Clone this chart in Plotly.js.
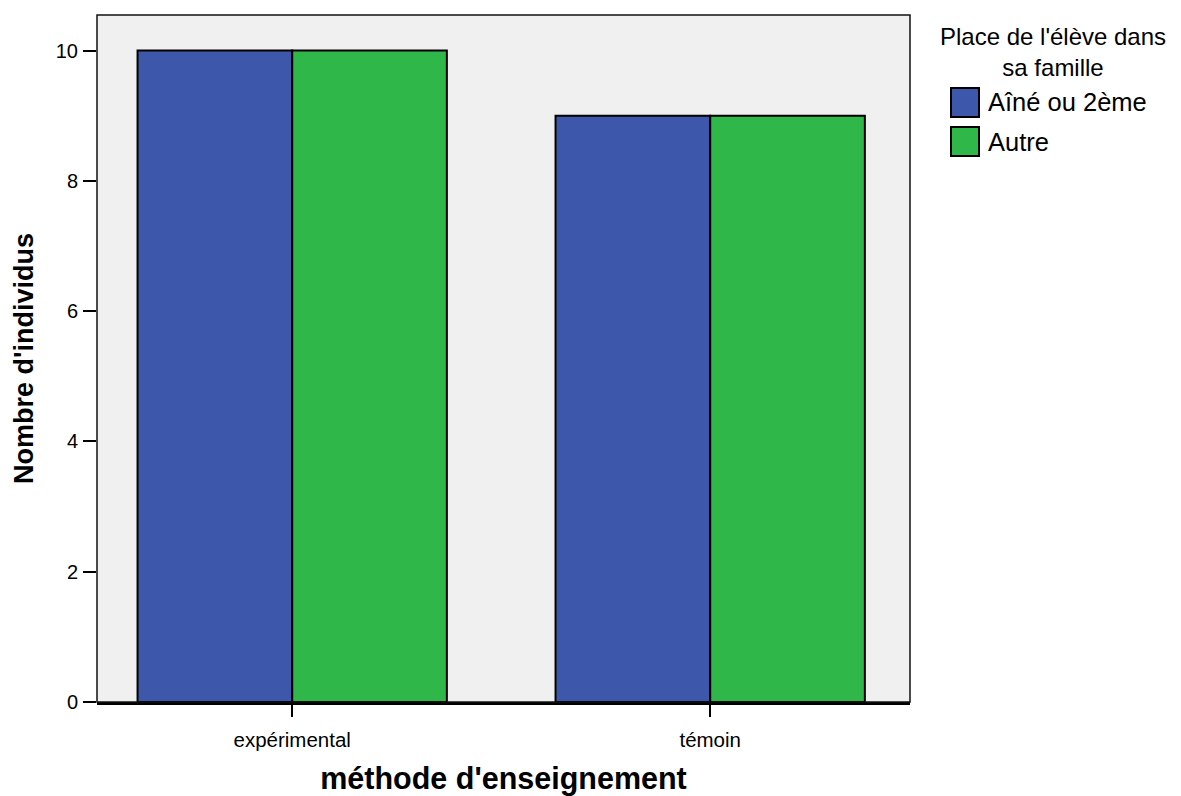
<!DOCTYPE html>
<html>
<head>
<meta charset="utf-8">
<script src="https://cdn.plot.ly/plotly-3.0.1.min.js"></script>
<style>html,body{margin:0;padding:0;background:#fff;}#chart{width:1181px;height:796px;}</style>
</head>
<body>
<div id="chart"></div>
<script>
const categories = ["expérimental", "témoin"];
const seriesNames = ["Aîné ou 2ème", "Autre"];
const aineValues = [10, 9];
const autreValues = [10, 9];
const seriesColors = ["#3d58aa", "#2fb74a"];
const yTicks = [0, 2, 4, 6, 8, 10];
const legendTitleLines = ["Place de l'élève dans", "sa famille"];

const traces = [
  {type: "bar", name: seriesNames[0], x: categories, y: aineValues,
   marker: {color: seriesColors[0], line: {color: "#000", width: 2}}, showlegend: false},
  {type: "bar", name: seriesNames[1], x: categories, y: autreValues,
   marker: {color: seriesColors[1], line: {color: "#000", width: 2}}, showlegend: false}
];

const font = {family: "Liberation Sans, Arial, sans-serif", color: "#000"};
const F = (s) => Object.assign({}, font, {size: s});

const mL = 97, mR = 271, mT = 15, mB = 94;
const plotW = 1181 - mL - mR, plotH = 796 - mT - mB;
const px = (x) => (x - mL) / plotW;
const py = (y) => 1 - (y - mT) / plotH;

const shapes = [
  {type: "rect", xref: "paper", yref: "paper", x0: 0, x1: 1, y0: 0, y1: 1,
   line: {color: "#111", width: 1.5}, fillcolor: "rgba(0,0,0,0)", layer: "above"}
];
const annotations = [
  {xref: "paper", yref: "paper", x: px(1053), y: py(52),
   xanchor: "center", yanchor: "middle", text: legendTitleLines.join("<br>"),
   align: "center", showarrow: false, font: F(24)}
];
seriesNames.forEach((nm, i) => {
  const y0 = 88 + i * 39, y1 = y0 + 29;
  shapes.push({type: "rect", xref: "paper", yref: "paper",
    x0: px(951), x1: px(979), y0: py(y1), y1: py(y0),
    fillcolor: seriesColors[i], line: {color: "#000", width: 2}});
  annotations.push({xref: "paper", yref: "paper", x: px(986), y: py((y0 + y1) / 2),
    xanchor: "left", yanchor: "middle", text: nm, showarrow: false, font: F(25.5)});
});

const layout = {
  width: 1181, height: 796,
  margin: {l: mL, r: mR, t: mT, b: mB},
  paper_bgcolor: "#fff", plot_bgcolor: "#f0f0f0",
  font: font,
  barmode: "group", bargap: 0.26, bargroupgap: 0,
  showlegend: false,
  xaxis: {
    type: "category", range: [-0.467, 1.478],
    showline: true, linecolor: "#000", linewidth: 2.5,
    ticks: "outside", ticklen: 12, tickwidth: 2, tickcolor: "#000",
    ticklabelstandoff: 6,
    showgrid: false, zeroline: false,
    tickfont: F(20.5),
    title: {text: "<b>méthode d'enseignement</b>", font: F(30.5), standoff: 21}
  },
  yaxis: {
    range: [0, 10.545], tickvals: yTicks, ticktext: yTicks.map(String),
    showline: false, ticks: "outside", ticklen: 13, tickwidth: 2, tickcolor: "#000",
    ticklabelstandoff: 1,
    showgrid: false, zeroline: false,
    tickfont: F(20),
    title: {text: "<b>Nombre d'individus</b>", font: F(27), standoff: 14}
  },
  shapes: shapes,
  annotations: annotations
};

Plotly.newPlot("chart", traces, layout, {displayModeBar: false, staticPlot: true});
</script>
</body>
</html>
